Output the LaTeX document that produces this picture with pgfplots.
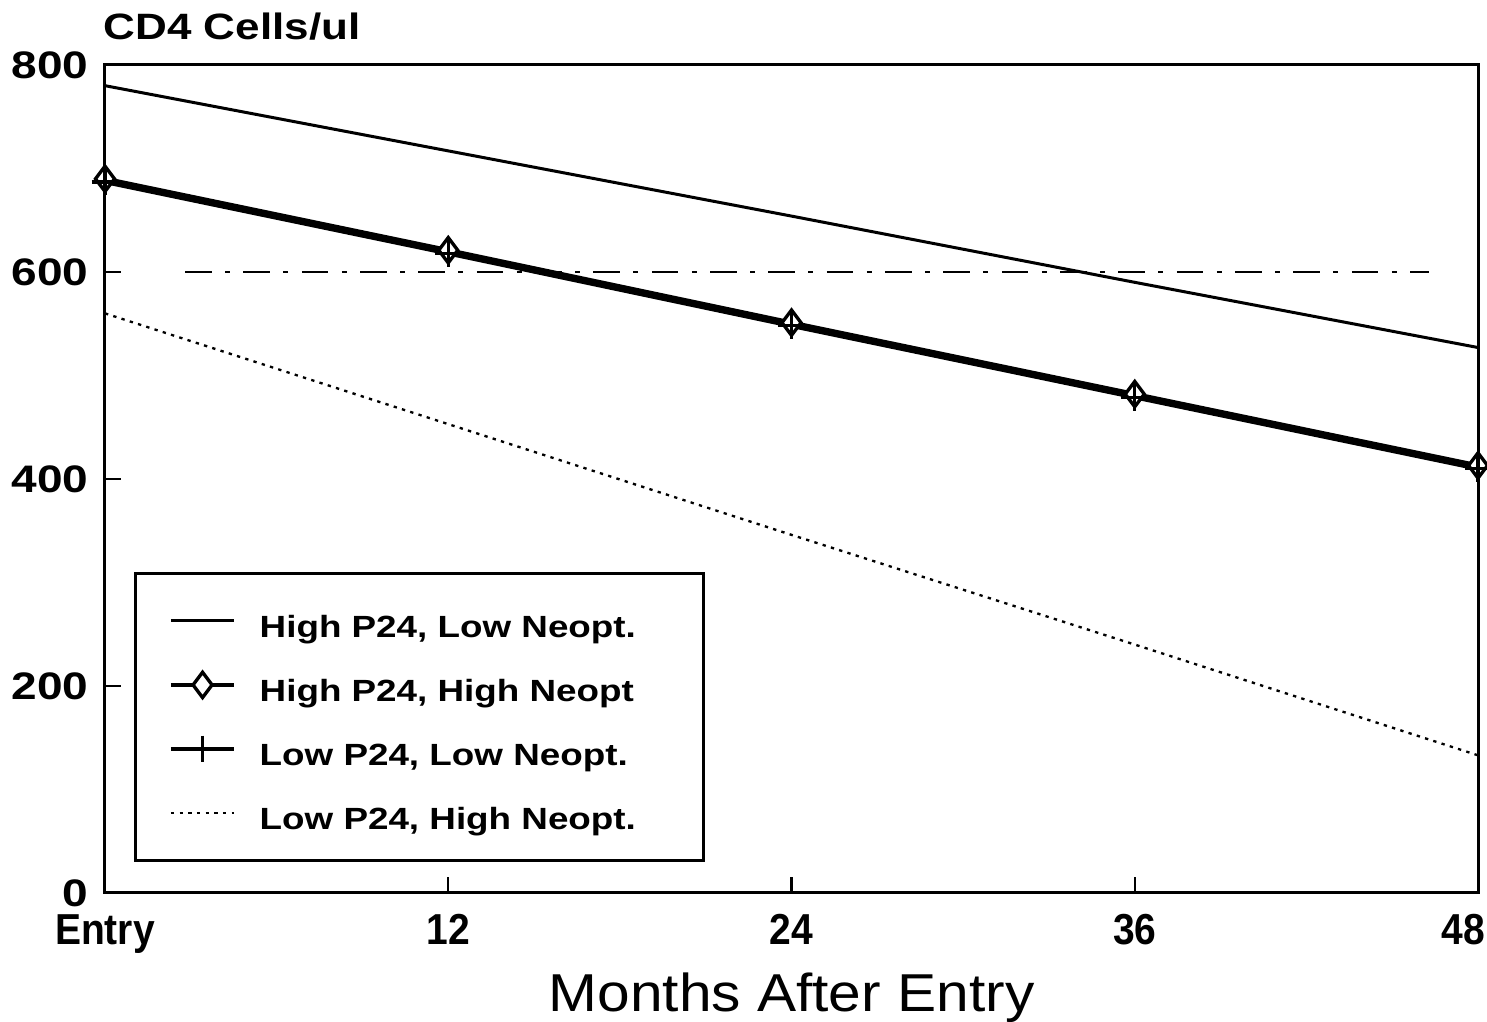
\documentclass[border=0pt]{standalone}
\usepackage{pgfplots}
\pgfplotsset{compat=1.18}
\usepackage{fontspec}
\setmainfont{Liberation Sans}
\newfontfamily\ext{Liberation Sans}[FakeStretch=1.2]
\newfontfamily\cond{Liberation Sans}[FakeStretch=0.9]
\newfontfamily\lab{Liberation Sans}[FakeStretch=1.1]
\begin{document}
\begin{tikzpicture}
\begin{axis}[
  name=ax,
  scale only axis,
  width=411.9pt, height=248.4pt,
  xmin=0, xmax=48, ymin=0, ymax=800,
  xtick={0,12,24,36,48},
  xticklabels={Entry,12,24,36,\makebox[4.4pt][r]{48}},
  ytick={0,200,400,600,800},
  tick align=inside,
  xtick pos=bottom, ytick pos=left,
  major tick length=4.8pt,
  axis line style={line width=0.9pt},
  every tick/.style={black, line width=0.7pt},
  /pgf/number format/assume math mode=true,
  yticklabel style={font=\ext\bfseries\fontsize{11.5}{13}\selectfont, xshift=-1.5pt},
  xticklabel style={font=\cond\bfseries\fontsize{13}{15}\selectfont, yshift=-3pt},
  xlabel={Months After Entry},
  xlabel style={at={(axis description cs:0.5,0)}, anchor=base, yshift=-35.7pt, font=\lab\fontsize{16}{19}\selectfont},
  clip=false,
  legend style={at={(axis cs:1.01,30)}, anchor=south west, draw=black, line width=0.9pt,
    inner xsep=10pt, inner ysep=9.25pt, row sep=9.2pt,
    nodes={inner sep=0pt, text height=10pt, text depth=0pt, font=\ext\bfseries\fontsize{9.2}{11}\selectfont},
    /tikz/every odd column/.append style={column sep=7pt}},
  legend cell align=left,
  legend image code/.code={\draw[mark repeat=2,mark phase=2] plot coordinates {(0pt,0pt) (9.5pt,0pt) (19pt,0pt)};},
]
\addplot[black, line width=0.5pt, dash pattern=on 8pt off 4pt on 1.5pt off 4pt, forget plot] coordinates {(2.8,600) (46.3,600)};
\addplot[black, line width=0.9pt, no markers] coordinates {(0,780) (12,717) (24,654) (36,590) (48,527)};
\addlegendentry{\makebox[123pt][l]{High P24, Low Neopt.}}
\addplot[black, line width=1.3pt, mark=diamond*, mark size=3.8pt, mark options={solid, fill=white, line width=1pt}] coordinates {(0,690) (12,621) (24,551) (36,482) (48,413)};
\addlegendentry{\makebox[123pt][l]{High P24, High Neopt}}
\addplot[black, line width=1.3pt, mark=+, mark size=4pt, mark options={solid, line width=1pt}] coordinates {(0,687) (12,618) (24,548) (36,479) (48,410)};
\addlegendentry{\makebox[123pt][l]{Low P24, Low Neopt.}}
\addplot[black, line width=0.7pt, dash pattern=on 1pt off 1.6pt, no markers] coordinates {(0,560) (12,453) (24,346) (36,240) (48,133)};
\addlegendentry{\makebox[123pt][l]{Low P24, High Neopt.}}
\node[anchor=base west, inner sep=0pt, font=\ext\bfseries\fontsize{11}{13}\selectfont] at ([xshift=-0.6pt, yshift=7.5pt]rel axis cs:0,1) {CD4 Cells/ul};
\end{axis}
\pgfresetboundingbox
\path[use as bounding box] ([xshift=-31.5pt,yshift=-38.7pt]ax.south west) rectangle ([xshift=2.7pt,yshift=19.5pt]ax.north east);
\end{tikzpicture}
\end{document}
